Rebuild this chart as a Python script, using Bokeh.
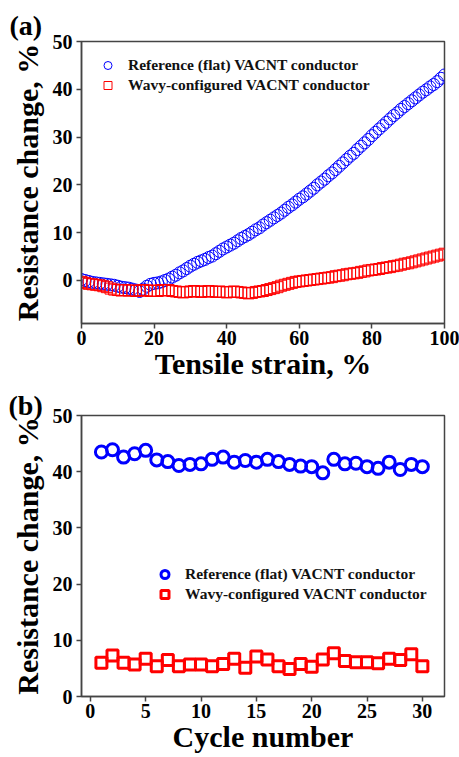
from bokeh.plotting import figure
from bokeh.layouts import column
from bokeh.models import Legend, LegendItem, FixedTicker, Range1d, Title
from bokeh.embed import file_html
from bokeh.resources import INLINE

# ---------------- data ----------------
strain = list(range(0, 101))
flat_strain = [
    0.2, 0.0, -0.2, -0.4, -0.5, -0.6, -0.7, -0.8, -0.9, -1.0,
    -1.2, -1.4, -1.5, -1.6, -1.8, -2.0, -2.3, -1.8, -1.2, -0.8,
    -0.6, -0.5, -0.3, 0.0, 0.3, 0.7, 1.1, 1.6, 2.0, 2.5,
    3.0, 3.4, 3.8, 4.1, 4.4, 4.8, 5.1, 5.6, 6.1, 6.6,
    7.0, 7.4, 7.8, 8.3, 8.8, 9.2, 9.6, 10.1, 10.6, 11.0,
    11.6, 12.1, 12.6, 13.1, 13.6, 14.1, 14.7, 15.3, 15.8, 16.4,
    17.0, 17.5, 18.1, 18.7, 19.3, 20.0, 20.6, 21.2, 21.9, 22.5,
    23.2, 23.9, 24.6, 25.3, 26.0, 26.6, 27.4, 28.1, 28.8, 29.5,
    30.3, 31.0, 31.7, 32.4, 33.1, 33.8, 34.5, 35.1, 35.8, 36.4,
    37.0, 37.6, 38.2, 38.8, 39.4, 39.9, 40.5, 41.0, 41.6, 42.3,
    43.0,
]
wavy_strain = [
    -0.3, -0.5, -0.7, -0.8, -0.9, -1.0, -1.2, -1.4, -1.7, -1.9,
    -2.0, -2.1, -2.0, -2.1, -2.1, -2.2, -2.1, -2.0, -2.1, -2.2,
    -2.1, -2.2, -2.0, -2.1, -2.0, -2.2, -2.3, -2.4, -2.5, -2.4,
    -2.3, -2.2, -2.3, -2.4, -2.3, -2.2, -2.3, -2.4, -2.3, -2.4,
    -2.5, -2.4, -2.3, -2.4, -2.5, -2.6, -2.7, -2.6, -2.4, -2.3,
    -2.2, -2.0, -1.8, -1.6, -1.4, -1.1, -0.9, -0.7, -0.5, -0.3,
    -0.2, -0.1, 0.0, 0.1, 0.2, 0.3, 0.4, 0.5, 0.6, 0.7,
    0.9, 1.0, 1.1, 1.3, 1.4, 1.5, 1.6, 1.8, 1.9, 2.1,
    2.2, 2.3, 2.4, 2.6, 2.7, 2.8, 3.0, 3.1, 3.3, 3.5,
    3.6, 3.8, 4.0, 4.2, 4.4, 4.6, 4.8, 5.0, 5.2, 5.4,
    5.6,
]
cycles = list(range(1, 31))
flat_cycle = [
    43.5, 43.9, 42.6, 43.2, 43.8, 42.1, 41.8, 41.1, 41.3, 41.4,
    42.2, 42.6, 41.7, 42.0, 41.7, 42.2, 41.8, 41.3, 41.0, 40.9,
    39.8, 42.2, 41.4, 41.5, 40.9, 40.6, 41.7, 40.4, 41.3, 40.9,
]
wavy_cycle = [
    6.0, 7.3, 6.0, 5.7, 6.7, 5.4, 6.5, 5.4, 5.7, 5.7,
    5.4, 5.8, 6.7, 5.1, 7.1, 6.6, 5.4, 4.9, 5.8, 5.3,
    6.6, 7.7, 6.3, 6.1, 6.1, 5.9, 6.7, 6.5, 7.5, 5.4,
]
yticks = [0, 10, 20, 30, 40, 50]
xticks_a = [0, 20, 40, 60, 80, 100]
xticks_b = [0, 5, 10, 15, 20, 25, 30]
legend_labels = ["Reference (flat) VACNT conductor", "Wavy-configured VACNT conductor"]

FONT = "Liberation Serif"
BLUE = "#0000FF"
RED = "#FF0000"
FRAME = "#444444"


def style(p, xlabel, ylabel, xt):
    p.xgrid.visible = False
    p.ygrid.visible = False
    p.outline_line_color = FRAME
    p.outline_line_width = 1.5
    p.outline_line_alpha = 1.0
    p.background_fill_color = "white"
    p.border_fill_color = "white"
    p.xaxis.ticker = FixedTicker(ticks=xt)
    p.yaxis.ticker = FixedTicker(ticks=yticks)
    p.xaxis.axis_label = xlabel
    p.yaxis.axis_label = ylabel
    for ax in (p.xaxis[0], p.yaxis[0]):
        ax.axis_line_color = FRAME
        ax.axis_line_width = 1.5
        ax.major_tick_line_color = FRAME
        ax.major_tick_line_width = 1.5
        ax.major_tick_out = 5
        ax.major_tick_in = 0
        ax.minor_tick_out = 0
        ax.minor_tick_in = 0
        ax.major_label_text_font = FONT
        ax.major_label_text_font_style = "bold"
        ax.major_label_text_font_size = "20px"
        ax.major_label_text_color = "black"
        ax.axis_label_text_font = FONT
        ax.axis_label_text_font_style = "bold"
        ax.axis_label_text_font_size = "30px"
        ax.axis_label_text_color = "black"
    p.xaxis.major_label_standoff = 2
    p.xaxis.axis_label_standoff = -1
    p.yaxis.major_label_standoff = 4
    p.yaxis.axis_label_standoff = 6


def make_legend(p, r1, r2, loc):
    leg = Legend(
        items=[LegendItem(label=legend_labels[0], renderers=[r1]),
               LegendItem(label=legend_labels[1], renderers=[r2])],
        location=loc,
        background_fill_alpha=0,
        border_line_alpha=0,
        label_text_font=FONT,
        label_text_font_style="bold",
        label_text_font_size="15.5px",
        label_text_color="#111111",
        glyph_width=25,
        glyph_height=20,
        label_height=18,
        label_standoff=8,
        spacing=0,
        padding=4,
        margin=10,
    )
    p.add_layout(leg, "center")


def panel_tag(p, text, offset, valign, standoff):
    t = Title(text=text, align="left", offset=offset, standoff=standoff,
              vertical_align=valign,
              text_font=FONT, text_font_style="bold", text_font_size="28px",
              text_color="black")
    p.add_layout(t, "above")


# ---------------- panel (a) ----------------
pa = figure(width=459, height=385, output_backend="svg", toolbar_location=None,
            x_range=Range1d(0, 100), y_range=Range1d(-9, 50),
            min_border_left=80, min_border_right=15, min_border_top=41, min_border_bottom=62)
style(pa, "Tensile strain, %", "Resistance change, %", xticks_a)
ra1 = pa.scatter(strain, flat_strain, marker="circle", size=12, fill_color=None,
                 line_color=BLUE, line_width=1)
ra2 = pa.scatter(strain, wavy_strain, marker="square", size=11, fill_color=None,
                 line_color=RED, line_width=1)
make_legend(pa, ra1, ra2, "top_left")
panel_tag(pa, "(a)", -72, "bottom", 2)

# ---------------- panel (b) ----------------
pb = figure(width=459, height=372, output_backend="svg", toolbar_location=None,
            x_range=Range1d(-0.8, 32), y_range=Range1d(0, 50),
            min_border_left=81, min_border_right=15, min_border_top=30, min_border_bottom=61)
style(pb, "Cycle number", "Resistance change, %", xticks_b)
rb1 = pb.scatter(cycles, flat_cycle, marker="circle", size=12, fill_color=None,
                 line_color=BLUE, line_width=3)
rb2 = pb.scatter(cycles, wavy_cycle, marker="square", size=11, fill_color=None,
                 line_color=RED, line_width=3)
make_legend(pb, rb1, rb2, (67, 88))
panel_tag(pb, "(b)", -73, "top", -14)

layout = column(pa, pb, spacing=0)
open("out.html", "w").write(file_html(layout, INLINE))
